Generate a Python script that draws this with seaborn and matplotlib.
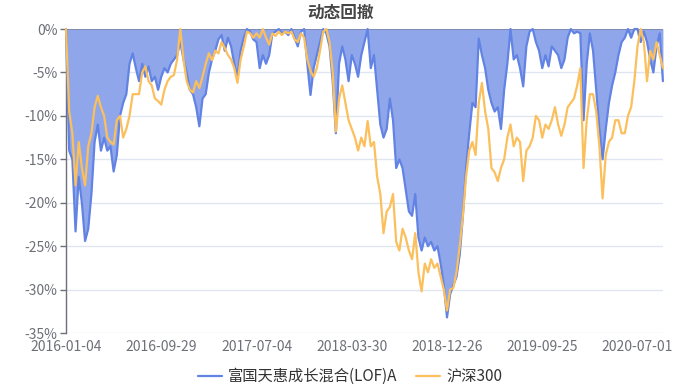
import matplotlib
matplotlib.use("Agg")
import matplotlib.pyplot as plt
import numpy as np
import pandas as pd
import seaborn as sns

fund_dd = [
    0, -14, -15, -23.3, -17, -20, -24.4, -23, -19, -13,
    -11, -14, -12.5, -14, -13.5, -16.4, -14.5, -10, -8.5, -7.5,
    -4, -2.8, -4.5, -6, -4, -5.5, -4.3, -6, -5.5, -7,
    -5.5, -4.5, -5, -4, -3.5, -3, -1.5, -3.5, -5, -7,
    -7.5, -9, -11.2, -8, -7.5, -5, -3.5, -2.5, -1.2, -0.7,
    -2.5, -1, -2, -4, -5.5, -2.5, -1, 0, -0.3, -1.2,
    -1.5, -4.5, -3, -4, -3, -0.5, -0.3, 0, -0.5, -0.3,
    -0.7, 0, -1, -2, -0.3, 0, -4, -7.6, -4.5, -3,
    -1.5, 0, -0.5, -2, -6, -12, -4, -2, -3.5, -6,
    -3, -4, -5.5, -3, -1.5, 0, -4.5, -3, -7, -11,
    -12.5, -11.5, -8, -10.5, -16, -15, -16, -18.5, -21, -21.5,
    -19, -24, -25.5, -24, -25, -24.5, -25.5, -25, -27, -29.5,
    -33.2, -30.5, -29.5, -28.5, -26, -21.5, -16, -12, -8.5, -9,
    -1.1, -3, -4.5, -7, -8.5, -9.5, -9, -11.5, -7, -4,
    0, -3.5, -3, -4.5, -6.6, -2, -0.3, 0, -1.5, -2.5,
    -4.5, -3, -4.3, -2, -2.5, -3, -4.5, -3.5, -1, 0,
    -0.5, -0.3, -0.5, -10.5, -4, -0.5, -2.5, -7, -11.5, -15,
    -11.5, -8.5, -6.5, -5, -3, -1.5, -1, 0, -1, 0,
    0, -1.5, -0.3, -1.5, -3.5, -5, -2, -0.5, -6,
]
hs300_dd = [
    0, -9.5, -12, -18, -13, -16, -18, -13.5, -12, -9,
    -7.7, -9, -10, -12.5, -13, -13.3, -10.5, -10, -12.5, -11.5,
    -10, -7.5, -7.5, -7.5, -5, -4.3, -6, -6.5, -8, -8.3,
    -8.7, -7, -6, -5.5, -5.3, -3.5, 0, -3.5, -6, -7,
    -7.3, -6, -6.8, -5.5, -4, -2.8, -3.6, -2.5, -2.8, -1.5,
    -2.2, -3, -3.5, -4.5, -6.2, -3.5, -2, -0.3, -0.5, -1,
    -0.5, -1, 0, -1, -1.8, -0.5, -0.8, -0.3, -0.7, -0.3,
    -0.5, -0.3, -1.2, -1.5, -0.5, -1, -3.5, -4.8, -5.5, -4.5,
    -2.5, -0.3, 0, -1.5, -5, -11.8, -8, -6.5, -8.5, -10.5,
    -11.5, -12.5, -14, -12.5, -13.5, -10.6, -13.5, -13, -17, -19,
    -23.5, -21, -20.5, -19, -24.5, -25.5, -23, -24, -25.5, -26.5,
    -23.5, -28, -30.2, -27, -28, -26.5, -27.5, -27, -28.5, -30,
    -32.4, -30, -29.8, -28, -25, -21.5, -17, -14, -13, -14.5,
    -8.5, -6.2, -9.5, -11.5, -16, -16.5, -17.5, -16, -15, -12.5,
    -11, -13.5, -12.5, -13, -17.5, -14, -13.5, -12.5, -10, -10.5,
    -12.5, -11, -11.5, -10.5, -9, -11, -12.3, -11, -9, -8.5,
    -8, -6.5, -4.5, -16, -10.5, -7.5, -7.5, -9.5, -13.5, -19.5,
    -14.5, -13, -12.5, -10.5, -10.5, -12, -12, -10, -9, -6,
    -2, 0, -1.5, -6, -2.5, -3.5, -1.5, -3, -4.5,
]
tick_labels = ["2016-01-04", "2016-09-29", "2017-07-04", "2018-03-30",
               "2018-12-26", "2019-09-25", "2020-07-01"]
tick_step = 30  # samples between labelled dates

fund_name = "富国天惠成长混合(LOF)A"
index_name = "沪深300"

sns.set_theme(style="white")
plt.rcParams["font.family"] = ["Noto Sans CJK SC", "DejaVu Sans"]

BLUE = "#6283e4"
FILL = "#8fa7ea"
ORANGE = "#fbbf5c"
AXIS = "#6e7079"
GRID = "#e0e6f1"

df = pd.DataFrame({
    "i": np.arange(len(fund_dd)),
    "fund": fund_dd,
    "index": hs300_dd,
})

fig, ax = plt.subplots(figsize=(7.0, 3.9), dpi=100)
fig.subplots_adjust(left=0.0943, right=0.947, top=0.9256, bottom=0.146)

ax.fill_between(df["i"], df["fund"], 0, color=FILL, lw=0, zorder=2)
sns.lineplot(data=df, x="i", y="fund", ax=ax, color=BLUE, lw=1.6, label=fund_name, zorder=3)
sns.lineplot(data=df, x="i", y="index", ax=ax, color=ORANGE, lw=1.6, label=index_name, zorder=4)
for ln in ax.lines:
    ln.set_clip_on(False)

ax.set_xlim(0, len(fund_dd) - 1)
ax.set_ylim(-35, 0)
ax.set_yticks(range(-35, 1, 5))
ax.set_yticklabels([f"{v}%" for v in range(-35, 1, 5)])
ax.set_xticks([j * tick_step for j in range(len(tick_labels))])
ax.set_xticklabels(tick_labels)
ax.set_xlabel("")
ax.set_ylabel("")

for v in range(-35, 0, 5):
    ax.axhline(v, color=GRID, lw=1, zorder=1)
ax.axhline(0, color=AXIS, lw=1, zorder=1.5)

for s in ["top", "right", "bottom"]:
    ax.spines[s].set_visible(False)
ax.spines["left"].set_color(AXIS)
ax.spines["left"].set_linewidth(1)

ax.tick_params(axis="y", left=True, colors=AXIS, labelsize=10, length=4, width=1,
               pad=2, labelcolor=AXIS)
ax.tick_params(axis="x", top=True, bottom=False, direction="in", length=4, width=1,
               colors=AXIS, labelsize=10, labelbottom=True, labeltop=False, pad=5)

fig.text(0.486, 0.968, "动态回撤", ha="center", va="center", fontsize=12,
         fontweight="bold", color="#464646")

ax.get_legend().remove()
handles, labels = ax.get_legend_handles_labels()
fig.legend(handles, labels, loc="center", bbox_to_anchor=(0.5, 0.034), ncol=2,
           frameon=False, fontsize=11, handlelength=1.6, handletextpad=0.4,
           columnspacing=1.2, labelcolor="#333333")

fig.savefig("out.png", dpi=100, facecolor="white")
